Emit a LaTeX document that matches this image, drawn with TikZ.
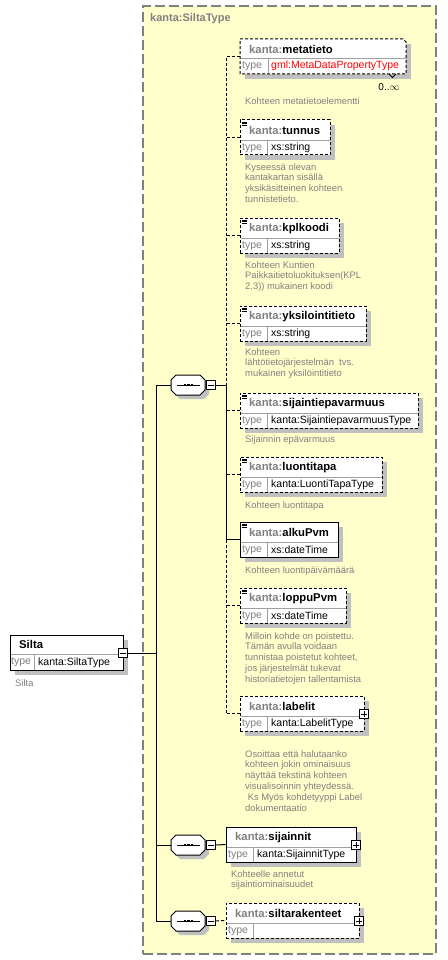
\documentclass[tikz,border=0pt]{standalone}
\usepackage{fontspec}
\setmainfont{Liberation Sans}
\usetikzlibrary{fit}
\definecolor{yel}{HTML}{FFFFCC}
\definecolor{gry}{HTML}{808080}
\definecolor{shd}{HTML}{C0C0C0}
\definecolor{dvd}{HTML}{A0A0A0}
\tikzset{
  ln/.style={line width=1pt},
  dsh/.style={line width=1pt, dash pattern=on 3pt off 2pt},
  ebox/.style={draw, fill=white, inner sep=0pt},
  nm/.style={anchor=west, inner sep=0pt, font=\fontsize{11.3}{13}\selectfont\bfseries},
  tp/.style={anchor=west, inner sep=0pt, font=\fontsize{10.5}{12}\selectfont},
  desc/.style={anchor=north west, inner sep=0pt, align=left, text=gry, font=\fontsize{9.4}{10.9}\selectfont},
  icon/.style={draw, ln, fill=white, minimum size=9.5pt, inner sep=0pt},
}
\newcommand\El[7]{%
  \fill[shd] ({#2+5},{#3+5}) rectangle ({#4+5},{#3+40});
  \node[ebox, #5, fit={(#2,#3) (#4,{#3+35})}] (#1) {};
  \draw[ln, dvd] ({#2+0.5},{#3+20.5}) -- ({#4-0.5},{#3+20.5});
  \draw[ln, dvd] ({#2+27.5},{#3+20.5}) -- ({#2+27.5},{#3+34.5});
  \node[nm] (#1-n) at ({#2+9},{#3+10.5}) {\textcolor{gry}{kanta:}#6};
  \node[tp, text=gry] (#1-tl) at ({#2+2},{#3+28}) {type};
  \node[tp] (#1-tv) at ({#2+31},{#3+28}) {#7};
}
\newcommand\Ic[2]{%
  \foreach \k in {2.2,3.8,5.4} \draw[line width=0.8pt] ({#1+2},{#2+\k}) -- ({#1+6.5},{#2+\k});
}
\newcommand\Pl[3]{%
  \node[icon] (#1) at (#2,#3) {};
  \draw[ln] ({#2-3},#3) -- ({#2+3},#3) (#2,{#3-3}) -- (#2,{#3+3});
}
\newcommand\Mi[3]{%
  \node[icon] (#1) at (#2,#3) {};
  \draw[ln] ({#2-3},#3) -- ({#2+3},#3);
}
\newcommand\Sq[2]{%
  \begin{scope}[shift={(0,#2)}]
    \fill[shd] (175,-1)--(180,-6)--(204,-6)--(209,-1)--(209,9)--(204,14)--(180,14)--(175,9)--cycle;
    \draw[ln, fill=white] (171,-5)--(176,-10)--(200,-10)--(205,-5)--(205,5)--(200,10)--(176,10)--(171,5)--cycle;
    \draw[ln] (177,0)--(200,0);
    \foreach \c in {185,188.5,192} \fill ({\c-1.3},-1.3) rectangle ({\c+1.3},1.3);
  \end{scope}
  \node[inner sep=0pt, fit={(171,{#2-10}) (205,{#2+10})}] (#1) {};
  \Mi{#1m}{211}{#2}
}
\begin{document}
\begin{tikzpicture}[x=1pt,y=-1pt]
\useasboundingbox (0,0) rectangle (447,960);
% container
\node[fit={(143,6) (436,954)}, inner sep=0pt, draw=gry, fill=yel, line width=1.5pt, dash pattern=on 10pt off 4pt] (cont) {};
\node[anchor=west, inner sep=0pt, font=\fontsize{11}{13}\selectfont\bfseries, text=gry] (title) at (150,19) {kanta:SiltaType};

% Silta root
\fill[shd] (15,640) rectangle (128,675);
\node[ebox, ln, fit={(10,635) (123,670)}] (silta) {};
\draw[ln,dvd] (10.5,654) -- (122.5,654);
\draw[ln,dvd] (34,654) -- (34,669.5);
\node[nm] (silta-n) at (19,644.5) {Silta};
\node[tp, text=gry] (silta-tl) at (11,662.5) {type};
\node[tp] (silta-tv) at (38,662.5) {kanta:SiltaType};
\Mi{siltam}{123}{653}
\node[desc] (silta-d) at (15,679) {Silta};

% metatieto (multiple occurrence)
\fill[shd] (245,44) rectangle (411,79);
\draw[dsh, fill=white] (240,39) -- (403,39) -- (406,42) -- (406,74) -- (240,74) -- cycle;
\node[inner sep=0pt, fit={(240,39) (406,74)}] (metatieto) {};
\draw[ln,dvd] (240.5,58.5) -- (405.5,58.5);
\draw[ln,dvd] (268,58.5) -- (268,73.5);
\draw[line width=0.8pt] (389,74) -- (392.5,77.5) -- (396,74);
\node[nm] (metatieto-n) at (249,49) {\textcolor{gry}{kanta:}metatieto};
\node[tp, text=gry] (metatieto-tl) at (242,66) {type};
\node[tp] (metatieto-tv) at (271,66) {\textcolor{red}{gml:MetaDataPropertyType}};
\node[inner sep=0pt, font=\fontsize{10}{12}\selectfont] (occ) at (389,87) {0..$\infty$};
\node[desc] (metatieto-d) at (245,97) {Kohteen metatietoelementti};

% children
\El{tunnus}{240}{120}{330}{dsh}{tunnus}{xs:string}
\Ic{240}{120}
\node[desc] (tunnus-d) at (245,163) {Kyseessä olevan\\kantakartan sisällä\\yksikäsitteinen kohteen\\tunnistetieto.};

\El{kplkoodi}{240}{218}{339}{dsh}{kplkoodi}{xs:string}
\Ic{240}{218}
\node[desc] (kplkoodi-d) at (245,261) {Kohteen Kuntien\\Paikkaitietoluokituksen(KPL\\2.3)) mukainen koodi};

\El{yksil}{240}{306}{366}{dsh}{yksilointitieto}{xs:string}
\Ic{240}{306}
\node[desc] (yksil-d) at (245,348) {Kohteen\\lähtötietojärjestelmän\ \ tvs.\\mukainen yksilöintitieto};

\El{sijep}{240}{393}{418}{dsh}{sijaintiepavarmuus}{kanta:SijaintiepavarmuusType}
\Ic{240}{393}
\node[desc] (sijep-d) at (245,435) {Sijainnin epävarmuus};

\El{luonti}{240}{457}{382}{dsh}{luontitapa}{kanta:LuontiTapaType}
\Ic{240}{457}
\node[desc] (luonti-d) at (245,501) {Kohteen luontitapa};

\El{alku}{240}{522}{338}{ln}{alkuPvm}{xs:dateTime}
\Ic{240}{522}
\node[desc] (alku-d) at (245,566) {Kohteen luontipäivämäärä};

\El{loppu}{240}{588}{346}{dsh}{loppuPvm}{xs:dateTime}
\Ic{240}{588}
\node[desc] (loppu-d) at (245,632) {Milloin kohde on poistettu.\\Tämän avulla voidaan\\tunnistaa poistetut kohteet,\\jos järjestelmät tukevat\\historiatietojen tallentamista};

\El{labelit}{240}{696}{364}{dsh}{labelit}{kanta:LabelitType}
\Pl{labelitp}{364}{714}
\node[desc] (labelit-d) at (245,750) {Osoittaa että halutaanko\\kohteen jokin ominaisuus\\näyttää tekstinä kohteen\\visualisoinnin yhteydessä.\\\hspace*{2.6pt}Ks Myös kohdetyyppi Label\\dokumentaatio};

\El{sijainnit}{226}{827}{356}{ln}{sijainnit}{kanta:SijainnitType}
\Pl{sijainnitp}{356}{845}
\node[desc] (sijainnit-d) at (231,870) {Kohteelle annetut\\sijaintiominaisuudet};

\El{siltar}{226}{903}{359}{dsh}{siltarakenteet}{}
\Pl{siltarp}{359}{921}

% compositors
\Sq{s1}{385}
\Sq{s2}{845}
\Sq{s3}{921}

% connectors
\coordinate (bx) at (226,0);
\coordinate (mb) at (156,0);
\draw[dsh] (metatieto.west) -| (bx |- s1m.east);
\draw[ln] (s1m.east) -| (bx |- alku.west) -- (alku.west);
\draw[dsh] (bx |- alku.west) |- (labelit.west);
\foreach \e in {tunnus,kplkoodi,yksil,sijep,luonti,loppu}
  \draw[dsh] (\e.west) -- (\e.west -| bx);
\draw[ln] (siltam.east) -- (siltam.east -| mb);
\draw[ln] (s1.west) -- (s1.west -| mb) -- (s3.west -| mb) -- (s3.west);
\draw[ln] (s2.west) -- (s2.west -| mb);
\draw[ln] (s2m.east) -- (sijainnit.west);
\draw[dsh] (s3m.east) -- (siltar.west);
\end{tikzpicture}
\end{document}
